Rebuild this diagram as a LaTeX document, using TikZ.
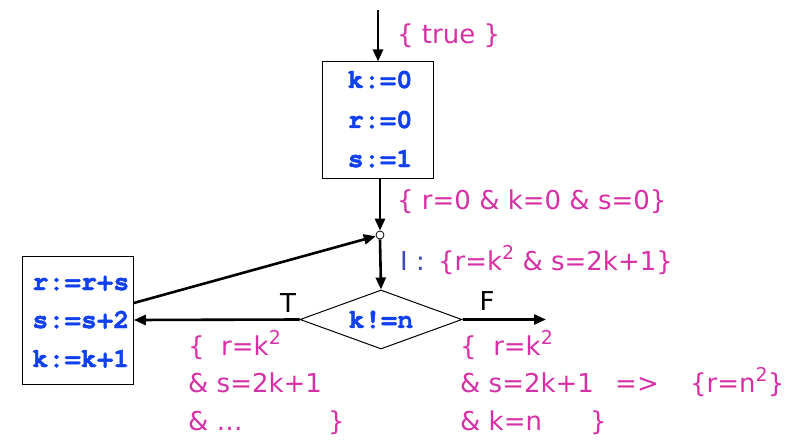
\documentclass[tikz,border=0pt]{standalone}
\usepackage{fontspec}
\setmainfont{DejaVu Sans}
\newfontfamily\codefont[FakeBold=1.6]{TeX Gyre Cursor}
\usetikzlibrary{arrows.meta,shapes.geometric}
\definecolor{anncol}{RGB}{214,48,166}
\definecolor{codeblue}{RGB}{16,64,240}
\definecolor{iblue}{RGB}{64,72,184}
\newcommand\supii{\raisebox{0.42em}{\fontsize{19}{19}\selectfont 2}}
\tikzset{
  ann/.style={text=anncol, font=\fontsize{26}{30}\selectfont, inner sep=0pt, anchor=base west},
  code/.style={text=codeblue, font=\codefont\bfseries\fontsize{27}{30}\selectfont, inner sep=0pt},
  lbl/.style={font=\fontsize{26}{30}\selectfont, inner sep=0pt, anchor=base},
  flow/.style={line width=2.6pt, -{Triangle[length=12pt,width=10pt]}},
  stmtbox/.style={draw, line width=1pt, inner sep=0pt, minimum width=111pt},
}
\begin{document}
\begin{tikzpicture}[x=1pt,y=-1pt]
\useasboundingbox (0,0) rectangle (799,441);
% top assignment box
\node[stmtbox, minimum height=116pt] (b1) at (377.5,120) {};
\node[code, anchor=base] (k0) at (380,88) {k:=0};
\node[code, anchor=base] (r0) at (380,128) {r:=0};
\node[code, anchor=base] (s1) at (380,167) {s:=1};
% junction circle
\node[draw, circle, minimum size=8pt, inner sep=0pt, line width=0.8pt, fill=white] (c) at (380,235) {};
% decision
\node[draw, diamond, aspect=2.75, minimum width=162pt, minimum height=59pt, inner sep=0pt, line width=1pt, code] (dia) at (381,319.5) {k!=n};
% loop body box
\node[stmtbox, minimum height=128pt] (b2) at (77.8,320) {};
\node[code, anchor=base west] (l1) at (32,290) {r:=r+s};
\node[code, anchor=base west] (l2) at (32,328) {s:=s+2};
\node[code, anchor=base west] (l3) at (32,367) {k:=k+1};
% connectors
\coordinate (top) at (378,10);
\coordinate (fend) at (546,319.5);
\draw[flow] (top) -- (top |- b1.north);
\draw[flow] (b1.south -| c) -- (c.north);
\draw[flow] (c.south) -- (dia.north);
\draw[flow] (dia.west) -- (b2.east);
\draw[flow] ([yshift=17pt]b2.east) -- (c);
\draw[flow] (dia.east) -- (fend);
% branch labels
\node[lbl] (T) at (288,312) {T};
\node[lbl] (F) at (487,310) {F};
% assertions
\node[ann] (a1) at (397,44) {\{ true \}};
\node[ann] (a2) at (397,209) {\{ r=0 \& k=0 \& s=0\}};
\node[ann] (a3) at (400,270) {{\color{iblue}I :}\hspace{5pt} \{r=k\supii{} \& s=2k+1\}};
\node[ann] (lt1) at (188,355) {\{\ \ r=k\supii};
\node[ann] (lt2) at (188,392) {\& s=2k+1};
\node[ann] (lt3) at (188,430) {\& …};
\node[ann] (lt4) at (328,430) {\}};
\node[ann] (rt1) at (460,355) {\{\ \ r=k\supii};
\node[ann] (rt2) at (460,392) {\& s=2k+1};
\node[ann] (rt3) at (460,430) {\& k=n};
\node[ann] (rt4) at (590,430) {\}};
\node[ann] (imp) at (615,392) {=>};
\node[ann] (post) at (690,392) {\{r=n\supii\}};
\end{tikzpicture}
\end{document}
